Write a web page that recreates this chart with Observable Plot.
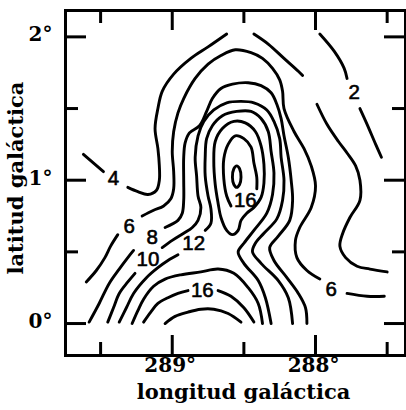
<!DOCTYPE html>
<html><head><meta charset="utf-8">
<script src="https://cdn.jsdelivr.net/npm/d3@7"></script>
<script src="https://cdn.jsdelivr.net/npm/@observablehq/plot@0.6"></script>
<style>body{margin:0;background:#fff}</style>
</head><body><div id="chart"></div>
<script>
// contour segments [longitude, latitude] in degrees
const c2a = [[287.97,2.02],[287.87,1.90],[287.80,1.78],[287.78,1.71]];
const c2b = [[287.69,1.50],[287.64,1.39],[287.58,1.25],[287.54,1.16]];
const c4a = [[289.62,1.18],[289.48,1.06]];
const c4b = [[289.31,0.95],[289.24,0.92],[289.17,0.90],[289.11,0.93],[289.09,1.00],[289.09,1.10],[289.10,1.22],[289.12,1.36],[289.10,1.50],[289.07,1.62],[288.99,1.74],[288.87,1.85],[288.75,1.93],[288.62,2.02]];
const c4c = [[288.43,2.02],[288.33,1.95],[288.22,1.85],[288.12,1.76],[288.09,1.73]];
const c4d = [[287.99,1.53],[287.92,1.39],[287.84,1.27],[287.78,1.19],[287.72,1.10],[287.69,1.00],[287.69,0.86],[287.76,0.74],[287.81,0.63],[287.83,0.54],[287.79,0.46],[287.71,0.40],[287.62,0.38],[287.50,0.36]];
const c6a = [[289.60,0.29],[289.53,0.37],[289.47,0.46],[289.43,0.54],[289.38,0.62]];
const c6b = [[289.21,0.75],[289.13,0.79],[289.06,0.82],[289.01,0.87],[288.99,0.94],[288.99,1.06],[289.00,1.20],[288.99,1.34],[288.96,1.47],[288.92,1.57],[288.84,1.71],[288.75,1.81],[288.66,1.87],[288.56,1.91],[288.45,1.89],[288.37,1.85],[288.30,1.78],[288.25,1.70],[288.23,1.62],[288.22,1.50],[288.15,1.34],[288.08,1.22],[288.03,1.10],[288.00,0.96],[288.03,0.81],[288.11,0.67],[288.14,0.58],[288.13,0.46],[288.06,0.37],[287.97,0.31]];
const c6c = [[287.78,0.21],[287.64,0.19],[287.52,0.19]];
const c8a = [[289.58,0.01],[289.51,0.14],[289.44,0.28],[289.37,0.38],[289.31,0.46],[289.27,0.51]];
const c8b = [[289.05,0.67],[288.96,0.72],[288.93,0.77],[288.92,0.86],[288.92,1.00],[288.92,1.16],[288.91,1.26],[288.88,1.33],[288.81,1.38],[288.76,1.48],[288.72,1.57],[288.66,1.64],[288.58,1.67],[288.47,1.68],[288.38,1.66],[288.31,1.61],[288.27,1.53],[288.24,1.43],[288.22,1.31],[288.19,1.16],[288.17,1.00],[288.16,0.86],[288.18,0.72],[288.26,0.61],[288.32,0.53],[288.29,0.44],[288.20,0.32],[288.12,0.21],[288.07,0.11],[288.06,0.00]];
const c10a = [[289.45,0.01],[289.41,0.11],[289.37,0.21],[289.31,0.29],[289.26,0.35]];
const c10b = [[289.07,0.53],[289.00,0.58],[288.92,0.63],[288.86,0.67],[288.82,0.72],[288.80,0.81],[288.82,0.89],[288.83,1.03],[288.84,1.16],[288.82,1.31],[288.78,1.41],[288.71,1.49],[288.62,1.54],[288.52,1.55],[288.43,1.54],[288.34,1.49],[288.29,1.41],[288.25,1.29],[288.24,1.16],[288.22,1.00],[288.23,0.86],[288.27,0.73],[288.36,0.63],[288.42,0.56],[288.44,0.50],[288.38,0.42],[288.26,0.30],[288.19,0.18],[288.16,0.00]];
const c12a = [[289.37,0.01],[289.32,0.11],[289.27,0.21],[289.18,0.32],[289.10,0.39],[289.03,0.44],[288.96,0.48]];
const c12b = [[288.77,0.65],[288.73,0.70],[288.73,0.80],[288.75,0.89],[288.77,1.03],[288.77,1.16],[288.76,1.29],[288.72,1.38],[288.65,1.45],[288.55,1.48],[288.45,1.48],[288.38,1.43],[288.33,1.34],[288.31,1.20],[288.29,1.05],[288.30,0.90],[288.34,0.77],[288.43,0.65],[288.50,0.56],[288.54,0.50],[288.50,0.42],[288.40,0.30],[288.35,0.18],[288.31,0.00]];
const c14arc = [[289.28,0.00],[289.24,0.09],[289.20,0.17],[289.13,0.26],[289.05,0.31],[288.94,0.34],[288.80,0.36],[288.68,0.38],[288.57,0.35],[288.47,0.25],[288.40,0.14],[288.37,0.00]];
const c14loop = [[288.68,0.84],[288.70,0.97],[288.71,1.13],[288.70,1.27],[288.65,1.36],[288.57,1.41],[288.49,1.40],[288.42,1.34],[288.38,1.24],[288.36,1.11],[288.36,0.98],[288.38,0.88],[288.43,0.81],[288.48,0.77],[288.52,0.72],[288.54,0.65],[288.58,0.62],[288.62,0.65],[288.66,0.74]];
const c16a = [[289.20,0.01],[289.15,0.08],[289.10,0.14],[289.03,0.18],[288.96,0.21],[288.89,0.23]];
const c16b = [[288.68,0.23],[288.59,0.19],[288.50,0.11],[288.43,0.01]];
const c16c = [[288.59,0.82],[288.62,0.89],[288.64,1.01],[288.64,1.15],[288.61,1.25],[288.56,1.31],[288.50,1.29],[288.45,1.23],[288.43,1.12],[288.41,1.02],[288.41,0.94]];
const c18arc = [[289.05,0.00],[288.98,0.05],[288.89,0.08],[288.80,0.10],[288.71,0.10],[288.61,0.07],[288.52,0.01]];
const c18loop = [[288.55,1.10],[288.53,1.08],[288.52,1.02],[288.53,0.97],[288.55,0.95],[288.57,0.97],[288.58,1.02],[288.57,1.08]];

// contour labels
const labelText = ["2","4","6","8","10","12","16","16","6"];
const labelLon  = [287.73,289.41,289.30,289.14,289.17,288.85,288.49,288.79,287.89];
const labelLat  = [1.61,1.01,0.68,0.60,0.45,0.56,0.86,0.23,0.24];

// axes
const xMajor = [289, 288];
const xMinor = [289.5, 288.5, 287.5];
const yMajor = [0, 1, 2];
const yMinor = [0.5, 1.5];
const xTickLabels = [289, 288];
const yTickLabels = [0, 1, 2];
const xTitle = "longitud galáctica";
const yTitle = "latitud galáctica";

const openSegs = [c2a,c2b,c4a,c4b,c4c,c4d,c6a,c6b,c6c,c8a,c8b,c10a,c10b,c12a,c12b,c14arc,c16a,c16b,c16c,c18arc];
const loopSegs = [c14loop, c18loop];
const toRows = segs => segs.flatMap((s,i) => s.map(([lon,lat]) => ({id:i, lon, lat})));
const openData = toRows(openSegs);
const loopData = toRows(loopSegs);
const labels = labelText.map((t,i) => ({text:t, lon:labelLon[i], lat:labelLat[i]}));

const lineStyle = {x:"lon", y:"lat", z:"id", stroke:"#000", strokeWidth:2.9, strokeLinecap:"round", strokeLinejoin:"round"};
const tk = {stroke:"#000", strokeWidth:3};

const plot = Plot.plot({
  width: 406, height: 410,
  marginLeft: 65, marginRight: 1, marginTop: 10, marginBottom: 55,
  x: {domain: [289.745, 287.372], axis: null},
  y: {domain: [-0.223, 2.184], axis: null},
  style: {background:"#fff", color:"#000", fontFamily:"'DejaVu Serif', serif", fontWeight:"bold", fontSize:"19px", overflow:"visible"},
  marks: [
    Plot.line(openData, {...lineStyle, curve:"catmull-rom"}),
    Plot.line(loopData, {...lineStyle, curve:"catmull-rom-closed"}),
    Plot.text(labels, {x:"lon", y:"lat", text:"text", fill:"#000", stroke:"#000", strokeWidth:0.6, fontFamily:"'Liberation Sans', Arial, sans-serif", fontWeight:"normal", fontSize:20.5}),
    Plot.tickX(xMajor, {x:d=>d, insetBottom:325, ...tk}),
    Plot.tickX(xMajor, {x:d=>d, insetTop:325, ...tk}),
    Plot.tickX(xMinor, {x:d=>d, insetBottom:332, ...tk}),
    Plot.tickX(xMinor, {x:d=>d, insetTop:332, ...tk}),
    Plot.tickY(yMajor, {y:d=>d, insetRight:319, ...tk}),
    Plot.tickY(yMajor, {y:d=>d, insetLeft:319, ...tk}),
    Plot.tickY(yMinor, {y:d=>d, insetRight:327, ...tk}),
    Plot.tickY(yMinor, {y:d=>d, insetLeft:327, ...tk}),
    Plot.frame({stroke:"#000", strokeWidth:3}),
    Plot.text(xTickLabels, {x:d=>d, text:d=>d+"°", frameAnchor:"bottom", dy:16, dx:-2, fill:"#000", fontSize:20}),
    Plot.text(yTickLabels, {y:d=>d, text:d=>d+"°", frameAnchor:"left", textAnchor:"end", dx:-13, dy:-2, fill:"#000", fontSize:20}),
    Plot.text([xTitle], {text:d=>d, frameAnchor:"bottom", textAnchor:"middle", dy:43, dx:8, fill:"#000", fontSize:21}),
    Plot.text([yTitle], {text:d=>d, frameAnchor:"left", textAnchor:"middle", rotate:-90, dx:-49, dy:-5, fill:"#000", fontSize:21})
  ]
});
document.getElementById("chart").appendChild(plot);
</script>
</body></html>
